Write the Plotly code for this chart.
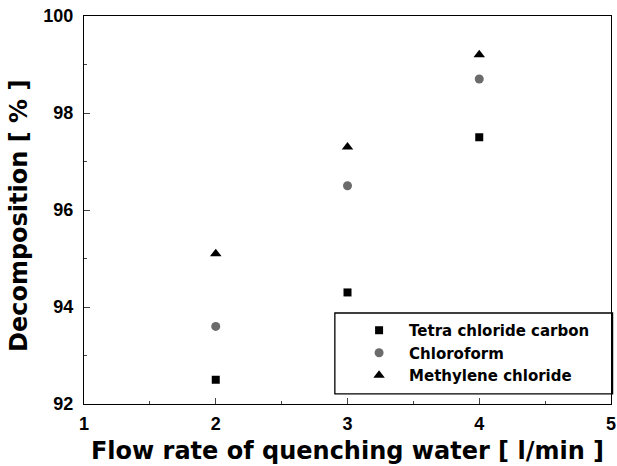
import plotly.graph_objects as go

flow = [2, 3, 4]
tetra = [92.5, 94.3, 97.5]
chloroform = [93.6, 96.5, 98.7]
methylene = [95.1, 97.3, 99.2]
series_names = ["Tetra chloride carbon", "Chloroform", "Methylene chloride"]
x_title = "Flow rate of quenching water [ l/min ]"
y_title = "Decomposition [ % ]"

fig = go.Figure()
fig.add_trace(go.Scatter(x=flow, y=tetra, mode="markers", name=series_names[0],
                         marker=dict(symbol="square", size=8, color="black")))
fig.add_trace(go.Scatter(x=flow, y=chloroform, mode="markers", name=series_names[1],
                         marker=dict(symbol="circle", size=9, color="#6b6b6b")))
fig.add_trace(go.Scatter(x=flow, y=methylene, mode="markers", name=series_names[2],
                         marker=dict(symbol="triangle-up", size=10, color="black")))

tick_font = "Liberation Sans, Arial, sans-serif"
title_font = "DejaVu Sans, Verdana, sans-serif"

# legend frame (style element)
fig.add_shape(type="rect", xref="paper", yref="paper",
              x0=0.476, x1=1.003, y0=0.026, y1=0.2345,
              line=dict(color="black", width=1.3), fillcolor="white", layer="below")

# y-axis title as rotated annotation
fig.add_annotation(text=y_title, xref="paper", yref="paper", x=0, y=0.5,
                   xanchor="center", yanchor="middle", xshift=-65, yshift=-6,
                   textangle=-90, showarrow=False,
                   font=dict(size=24, family=title_font, weight="bold", color="black"))

fig.update_layout(
    width=617, height=466,
    margin=dict(l=84, r=6, t=16, b=62),
    plot_bgcolor="white", paper_bgcolor="white",
    font=dict(family=tick_font, color="black"),
    showlegend=True,
    legend=dict(x=0.503, y=0.232, xanchor="left", yanchor="top",
                borderwidth=0, bgcolor="rgba(0,0,0,0)",
                font=dict(size=15, family=title_font, weight="bold"),
                itemwidth=50),
    xaxis=dict(range=[1, 5], tickvals=[1, 2, 3, 4, 5], ticks="inside", ticklen=6,
               tickwidth=1.3, showline=True, linecolor="black", linewidth=1.3, mirror=True,
               showgrid=False, zeroline=False, automargin=False, ticklabelstandoff=3,
               ticklabeloverflow="allow",
               minor=dict(ticks="inside", dtick=0.5, tick0=1, ticklen=3, tickwidth=1, showgrid=False),
               tickfont=dict(size=18, family=tick_font, weight="bold"),
               title=dict(text=x_title, standoff=9,
                          font=dict(size=24, family=title_font, weight="bold"))),
    yaxis=dict(range=[92, 100], tickvals=[92, 94, 96, 98, 100], ticks="inside", ticklen=6,
               tickwidth=1.3, showline=True, linecolor="black", linewidth=1.3, mirror=True,
               showgrid=False, zeroline=False, automargin=False, ticklabelstandoff=6,
               ticklabeloverflow="allow",
               minor=dict(ticks="inside", dtick=1, tick0=92, ticklen=3, tickwidth=1, showgrid=False),
               tickfont=dict(size=18, family=tick_font, weight="bold")),
)

fig.write_html("out.html", config={"displayModeBar": False},
               post_script="document.body.style.margin='0';")
